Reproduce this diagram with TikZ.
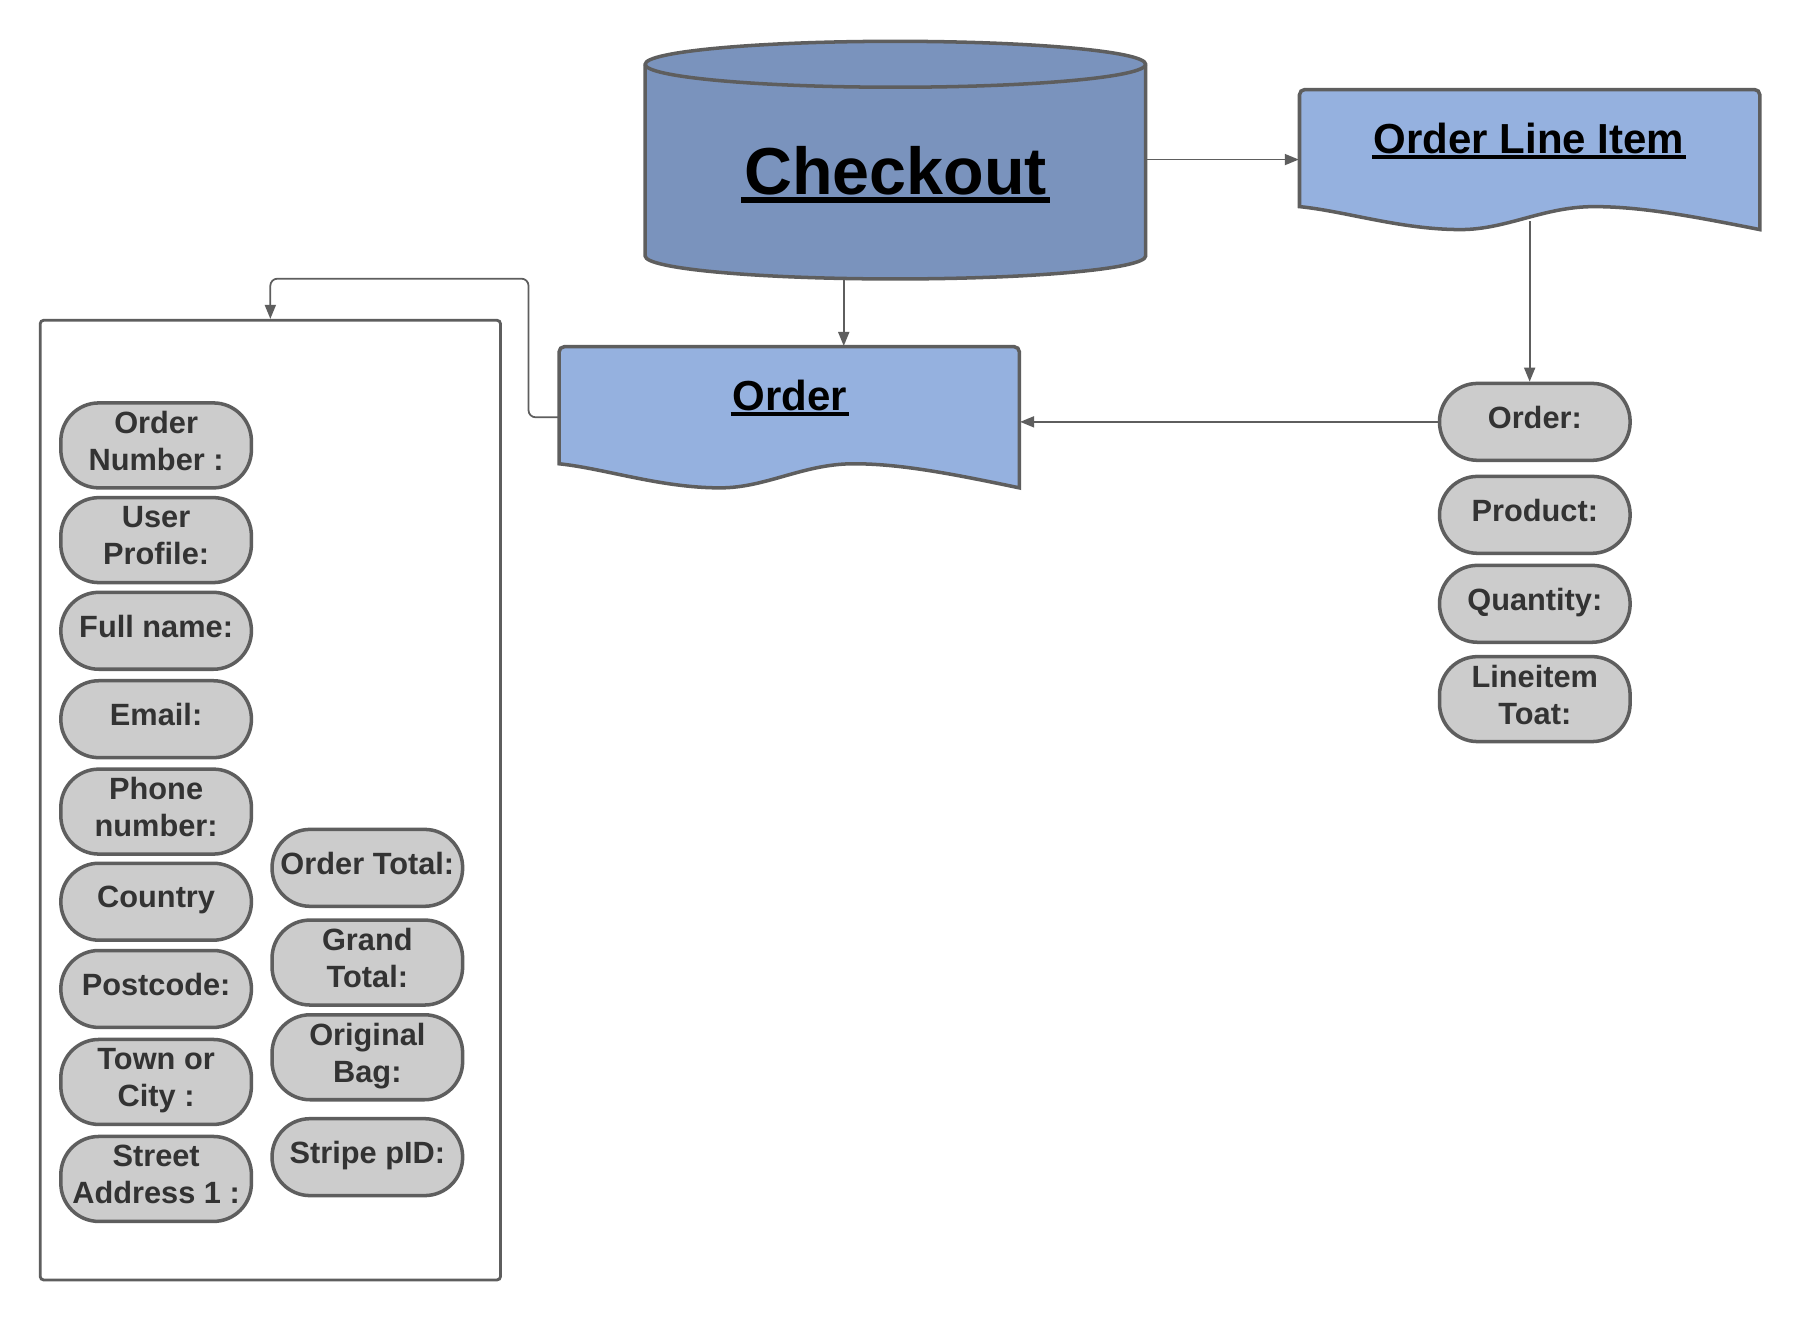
\documentclass[tikz,border=0pt]{standalone}
\usepackage{fontspec}
\setmainfont{Liberation Sans}
\usetikzlibrary{arrows.meta,calc}

\definecolor{cylblue}{HTML}{7A93BD}
\definecolor{docblue}{HTML}{95B1DF}
\definecolor{pillgray}{HTML}{CCCCCC}
\definecolor{linegray}{HTML}{5E5E5E}
\definecolor{textgray}{HTML}{333333}

\tikzset{
	boxsize/.style 2 args={minimum width=#1*0.114796mm, minimum height=#2*0.114796mm},
	hidden/.style={draw=none, inner sep=0pt},
	cylbody/.style={fill=cylblue, draw=linegray, line width=1pt},
	docbody/.style={fill=docblue, draw=linegray, line width=1pt},
	field/.style={draw=linegray, line width=1pt, fill=pillgray, rounded corners=3.8mm, boxsize={166}{67}, align=center, inner sep=1pt, text depth=2.8pt, text=textgray, font=\fontsize{8.75}{10.5}\selectfont\bfseries},
	tallfield/.style={field, boxsize={166}{74}, text depth=2.6pt},
	title/.style={text=black, inner sep=0pt},
	edge/.style={-{Triangle[length=1.4mm, width=1.1mm]}, draw=linegray, line width=0.5pt}
}

% thick underline for the titles
\newcommand{\titleline}[1]{\setbox0\hbox{#1}\hbox{\kern-0.05em\rlap{\vrule height -0.04em depth 0.135em width \dimexpr\wd0+0.1em\relax}\kern0.05em\box0}}

% document shape: left x, top y, width, left bottom y, wave depth
\newcommand{\docwave}[5]{%
  \path[docbody] (#1,-#4) [rounded corners=1.5pt] -- (#1,-#2) -- (#1+#3,-#2) [sharp corners] -- (#1+#3,-#4-#5)
    .. controls (#1+0.85*#3,-#4-0.4*#5) and (#1+0.74*#3,-#4) .. (#1+0.64*#3,-#4)
    .. controls (#1+0.53*#3,-#4) and (#1+0.45*#3,-#4-#5) .. (#1+0.35*#3,-#4-#5)
    .. controls (#1+0.22*#3,-#4-#5) and (#1+0.1*#3,-#4-0.2*#5) .. cycle;}

\begin{document}
\begin{tikzpicture}[x=0.114796mm, y=0.114796mm]
\path[fill=white, use as bounding box] (0,0) rectangle (1568,-1150);

% Checkout cylinder
\path[cylbody] (562,-56) -- (562,-223) arc[start angle=180, end angle=360, x radius=218, y radius=20]
  -- (998,-56) arc[start angle=0, end angle=180, x radius=218, y radius=20] -- cycle;
\draw[linegray, line width=1pt] (562,-56) arc[start angle=180, end angle=360, x radius=218, y radius=20];
\node[hidden, boxsize={436}{207}] (cyl) at (780,-139.5) {};
\node[title, font=\fontsize{18.9}{22}\selectfont\bfseries] (checkouttitle) at (780,-152) {\titleline{Checkout}};

% Document shapes
\docwave{1132}{78}{401}{180}{20}
\node[hidden, boxsize={401}{122}] (oli) at (1332.5,-139) {};
\node[title, font=\fontsize{11.95}{14}\selectfont\bfseries] (olititle) at (1332,-123) {\titleline{Order Line Item}};

\docwave{487}{302}{401}{404}{21}
\node[hidden, boxsize={401}{123}] (odoc) at (687.5,-363.5) {};
\node[title, font=\fontsize{11.95}{14}\selectfont\bfseries] (odoctitle) at (688,-347) {\titleline{Order}};

% Order fields
\node[draw=linegray, line width=0.8pt, rounded corners=1pt, boxsize={401}{836}] (fields) at (235.5,-697) {};

\node[tallfield] (onum) at (136,-388) {Order\\Number :};
\node[tallfield] (uprof) at (136,-470.5) {User\\Profile:};
\node[field] (fname) at (136,-549.5) {Full name:};
\node[field] (email) at (136,-626.5) {Email:};
\node[tallfield] (phone) at (136,-707) {Phone\\number:};
\node[field] (country) at (136,-785.5) {Country};
\node[field] (pcode) at (136,-861.5) {Postcode:};
\node[tallfield] (town) at (136,-942.5) {Town or\\City :};
\node[tallfield] (street) at (136,-1027) {Street\\Address 1 :};

\node[field] (ototal) at (320,-756) {Order Total:};
\node[tallfield] (gtotal) at (320,-838.5) {Grand\\Total:};
\node[tallfield] (obag) at (320,-921) {Original\\Bag:};
\node[field] (stripe) at (320,-1008) {Stripe pID:};

% Line item fields
\node[field] (opill) at (1337,-367.5) {Order:};
\node[field] (product) at (1337,-448.5) {Product:};
\node[field] (qty) at (1337,-526) {Quantity:};
\node[tallfield] (ltotal) at (1337,-609) {Lineitem\\Toat:};

% Edges
\coordinate (cylout) at ($(cyl.south)+(-45,0)$);
\coordinate (olibot) at ($(oli.south)+(0,8)$);
\draw[edge] (oli.west -| cyl.east) -- (oli.west);
\draw[edge] (cylout) -- (cylout |- odoc.north);
\draw[edge] (olibot) -- (olibot |- opill.north);
\draw[edge] (opill.west) -- (opill.west -| odoc.east);
\draw[edge, rounded corners=2pt] (odoc.west) -- ++(-26,0) |- ($(fields.north)+(0,35)$) -- (fields.north);

\end{tikzpicture}
\end{document}
